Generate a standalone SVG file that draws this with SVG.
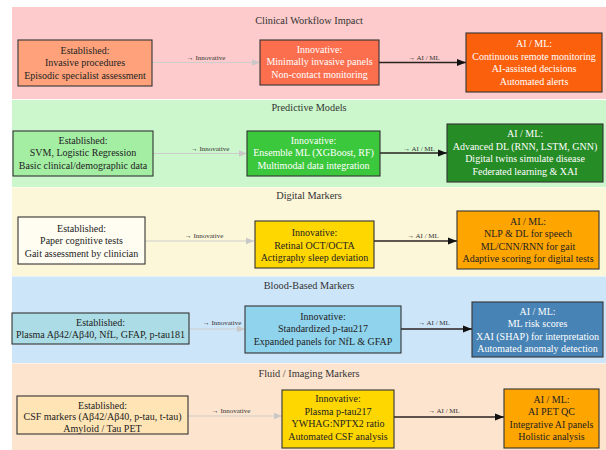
<svg xmlns="http://www.w3.org/2000/svg" width="606" height="450" viewBox="0 0 606 450" font-family="Liberation Serif, Times New Roman, serif">
<defs>
<marker id="ag" viewBox="0 0 10 10" refX="10" refY="5" markerWidth="8" markerHeight="8" markerUnits="userSpaceOnUse" orient="auto"><path d="M0,1 L10,5 L0,9 z" fill="#c8c8c8"/></marker>
<marker id="ab" viewBox="0 0 10 10" refX="10" refY="5" markerWidth="9" markerHeight="9" markerUnits="userSpaceOnUse" orient="auto"><path d="M0,1 L10,5 L0,9 z" fill="#111"/></marker>
<style>
text{font-family:'Liberation Serif','Times New Roman',serif;text-anchor:middle}
.t{font-size:10px;fill:#222}
.w{font-size:10px;fill:#fff}
.d{font-size:10px;fill:#222}
.h{font-size:10.3px;fill:#333}
.l{font-size:7px;fill:#333}
.box{stroke:#333;stroke-width:1.1}
.eg{stroke:#cdcdcd;stroke-width:1.2;fill:none;marker-end:url(#ag)}
.eb{stroke:#2a2220;stroke-width:1.5;fill:none;marker-end:url(#ab)}
</style>
</defs>
<rect width="606" height="450" fill="#fff"/>
<g id="bands">
<rect x="12" y="7" width="594" height="92" fill="#fdcbcb"/>
<rect x="12" y="100" width="594" height="87" fill="#ccf7cc"/>
<rect x="12" y="187.5" width="594" height="88.5" fill="#fdf7da"/>
<rect x="12" y="276.5" width="594" height="86.5" fill="#cde5f9"/>
<rect x="12" y="363.5" width="594" height="86.5" fill="#fde4cf"/>
<text class="h" x="309" y="24">Clinical Workflow Impact</text>
<text class="h" x="309" y="111">Predictive Models</text>
<text class="h" x="309" y="199">Digital Markers</text>
<text class="h" x="309" y="289">Blood-Based Markers</text>
<text class="h" x="309" y="377">Fluid / Imaging Markers</text>
</g>
<g id="connectors">
<path class="eg" d="M152,62.5 L260,62.5"/>
<path class="eb" d="M379,62.5 L466,62.5"/>
<text class="l" x="206" y="59.5">→ Innovative</text>
<text class="l" x="424" y="59.5">→ AI / ML</text>
<path class="eg" d="M153,153.5 L247,153.5"/>
<path class="eb" d="M380,153 L447,153"/>
<text class="l" x="210" y="150.5">→ Innovative</text>
<text class="l" x="419" y="150.5">→ AI / ML</text>
<path class="eg" d="M145,241 L254,241"/>
<path class="eb" d="M374,241 L457,241"/>
<text class="l" x="204" y="237.5">→ Innovative</text>
<text class="l" x="423" y="237.5">→ AI / ML</text>
<path class="eg" d="M189,329 L245,329"/>
<path class="eb" d="M401,329 L472,329"/>
<text class="l" x="222" y="325">→ Innovative</text>
<text class="l" x="434" y="325">→ AI / ML</text>
<path class="eg" d="M188,416 L282,416"/>
<path class="eb" d="M394,417 L504,417"/>
<text class="l" x="231" y="413">→ Innovative</text>
<text class="l" x="444" y="413">→ AI / ML</text>
</g>
<g id="clin-est"><rect class="box" x="18" y="40" width="134" height="46" fill="#ffa27b"/>
<text class="t" x="85" y="53.5">Established:</text><text class="t" x="85" y="66">Invasive procedures</text><text class="t" x="85" y="78.5">Episodic specialist assessment</text></g>
<g id="clin-inn"><rect class="box" x="260" y="40" width="119" height="45" fill="#fb6f4f"/>
<text class="w" x="319.5" y="52.5">Innovative:</text><text class="w" x="319.5" y="65">Minimally invasive panels</text><text class="w" x="319.5" y="77.5">Non-contact monitoring</text></g>
<g id="clin-ai"><rect class="box" x="466" y="33" width="136" height="59" fill="#fb600c"/>
<text class="w" x="534" y="47">AI / ML:</text><text class="w" x="534" y="59.5">Continuous remote monitoring</text><text class="w" x="534" y="72">AI-assisted decisions</text><text class="w" x="534" y="84.5">Automated alerts</text></g>
<g id="pred-est"><rect class="box" x="13" y="131" width="140" height="45" fill="#a4eea4"/>
<text class="t" x="83" y="143.5">Established:</text><text class="t" x="83" y="156">SVM, Logistic Regression</text><text class="t" x="83" y="168.5">Basic clinical/demographic data</text></g>
<g id="pred-inn"><rect class="box" x="247" y="131" width="133" height="45" fill="#3cc83c"/>
<text class="w" x="313.5" y="143.5">Innovative:</text><text class="w" x="313.5" y="156">Ensemble ML (XGBoost, RF)</text><text class="w" x="313.5" y="168.5">Multimodal data integration</text></g>
<g id="pred-ai"><rect class="box" x="447" y="124" width="156" height="58" fill="#268c26"/>
<text class="w" x="525" y="137">AI / ML:</text><text class="w" x="525" y="149.5">Advanced DL (RNN, LSTM, GNN)</text><text class="w" x="525" y="162">Digital twins simulate disease</text><text class="w" x="525" y="174.5">Federated learning &amp; XAI</text></g>
<g id="dig-est"><rect class="box" x="18" y="217" width="127" height="47" fill="#fffdf2"/>
<text class="t" x="81.5" y="231.5">Established:</text><text class="t" x="81.5" y="244">Paper cognitive tests</text><text class="t" x="81.5" y="256.5">Gait assessment by clinician</text></g>
<g id="dig-inn"><rect class="box" x="255" y="221" width="119" height="47" fill="#ffd700"/>
<text class="d" x="314.5" y="236">Innovative:</text><text class="d" x="314.5" y="248.5">Retinal OCT/OCTA</text><text class="d" x="314.5" y="261">Actigraphy sleep deviation</text></g>
<g id="dig-ai"><rect class="box" x="457" y="211" width="142" height="58" fill="#ffa500"/>
<text class="d" x="528" y="224.5">AI / ML:</text><text class="d" x="528" y="237">NLP &amp; DL for speech</text><text class="d" x="528" y="249.5">ML/CNN/RNN for gait</text><text class="d" x="528" y="262">Adaptive scoring for digital tests</text></g>
<g id="blood-est"><rect class="box" x="12" y="313" width="177" height="31" fill="#acdde6"/>
<text class="t" x="100.5" y="325.5">Established:</text><text class="t" x="100.5" y="338">Plasma Aβ42/Aβ40, NfL, GFAP, p-tau181</text></g>
<g id="blood-inn"><rect class="box" x="245" y="306" width="156" height="47" fill="#8fd3ed"/>
<text class="d" x="323" y="319.5">Innovative:</text><text class="d" x="323" y="332">Standardized p-tau217</text><text class="d" x="323" y="344.5">Expanded panels for NfL &amp; GFAP</text></g>
<g id="blood-ai"><rect class="box" x="472" y="302" width="131" height="55" fill="#4783b5"/>
<text class="w" x="537.5" y="314.5">AI / ML:</text><text class="w" x="537.5" y="327">ML risk scores</text><text class="w" x="537.5" y="339.5">XAI (SHAP) for interpretation</text><text class="w" x="537.5" y="352">Automated anomaly detection</text></g>
<g id="fluid-est"><rect class="box" x="17" y="396" width="171" height="38" fill="#ffe5b6"/>
<text class="t" x="102.5" y="408.5">Established:</text><text class="t" x="102.5" y="420">CSF markers (Aβ42/Aβ40, p-tau, t-tau)</text><text class="t" x="102.5" y="431.5">Amyloid / Tau PET</text></g>
<g id="fluid-inn"><rect class="box" x="282" y="390" width="112" height="58" fill="#ffd700"/>
<text class="d" x="338" y="402">Innovative:</text><text class="d" x="338" y="414.5">Plasma p-tau217</text><text class="d" x="338" y="427">YWHAG:NPTX2 ratio</text><text class="d" x="338" y="439.5">Automated CSF analysis</text></g>
<g id="fluid-ai"><rect class="box" x="504" y="389" width="95" height="59" fill="#ffa500"/>
<text class="d" x="551.5" y="402.5">AI / ML:</text><text class="d" x="551.5" y="415">AI PET QC</text><text class="d" x="551.5" y="427.5">Integrative AI panels</text><text class="d" x="551.5" y="440">Holistic analysis</text></g>
</svg>
